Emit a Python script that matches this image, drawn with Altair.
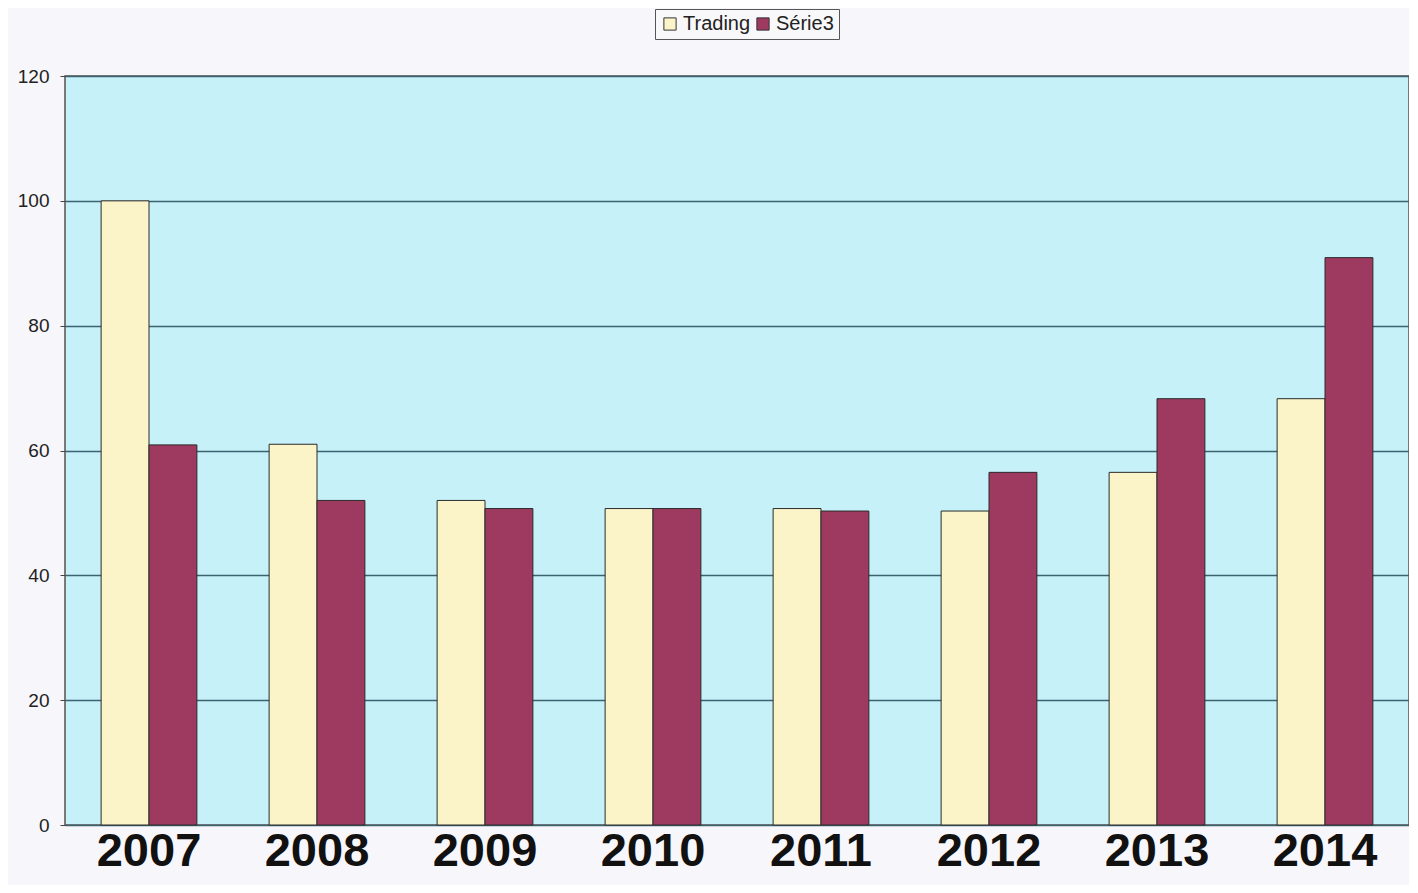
import altair as alt
import pandas as pd

years = ["2007", "2008", "2009", "2010", "2011", "2012", "2013", "2014"]
trading = [100, 61, 52, 50.7, 50.7, 50.3, 56.5, 68.3]
serie3 = [60.9, 52, 50.7, 50.7, 50.3, 56.5, 68.3, 90.9]
series = ["Trading", "Série3"]
colors = ["#FBF4C8", "#9E3A60"]

rows = []
for i, y in enumerate(years):
    rows.append({"year": y, "serie": series[0], "value": trading[i]})
    rows.append({"year": y, "serie": series[1], "value": serie3[i]})
df = pd.DataFrame(rows)

font = "Liberation Sans"

chart = alt.Chart(df).mark_bar(stroke="#2a2a2a", strokeWidth=1).encode(
    x=alt.X("year:N", sort=years, title=None,
            scale=alt.Scale(paddingInner=0.43, paddingOuter=0.215),
            axis=alt.Axis(labelAngle=0, labelFontSize=47, labelFontWeight="bold",
                          labelFont=font, labelColor="#111", ticks=False,
                          domain=False, labelPadding=3)),
    xOffset=alt.XOffset("serie:N", sort=series),
    y=alt.Y("value:Q", title=None,
            scale=alt.Scale(domain=[0, 120], nice=False),
            axis=alt.Axis(values=[0, 20, 40, 60, 80, 100, 120], labelFontSize=19,
                          labelFont=font, labelColor="#222", tickSize=5,
                          tickColor="#444", labelPadding=11, domain=False,
                          gridColor="#3d6370", gridOpacity=1, gridWidth=1.3)),
    color=alt.Color("serie:N", sort=series,
                    scale=alt.Scale(domain=series, range=colors),
                    legend=alt.Legend(orient="none", legendX=590, legendY=-67,
                                      direction="horizontal", title=None,
                                      strokeColor="#555", padding=5,
                                      labelFontSize=20, labelFont=font,
                                      labelColor="#222",
                                      symbolSize=150, symbolType="square",
                                      symbolStrokeColor="#333",
                                      symbolStrokeWidth=1,
                                      columnPadding=2, labelOffset=3,
                                      fillColor="#F8F8FA")),
).properties(
    width=1344, height=749,
    background="#F7F6FA",
    padding={"left": 57, "top": 68, "right": 0, "bottom": 60},
    autosize=alt.AutoSizeParams(type="none"),
).configure_view(
    fill="#C6F1F8", stroke="#5a5050", strokeWidth=1.5
)

chart.save("out.html", embed_options={"renderer": "svg", "actions": False})
